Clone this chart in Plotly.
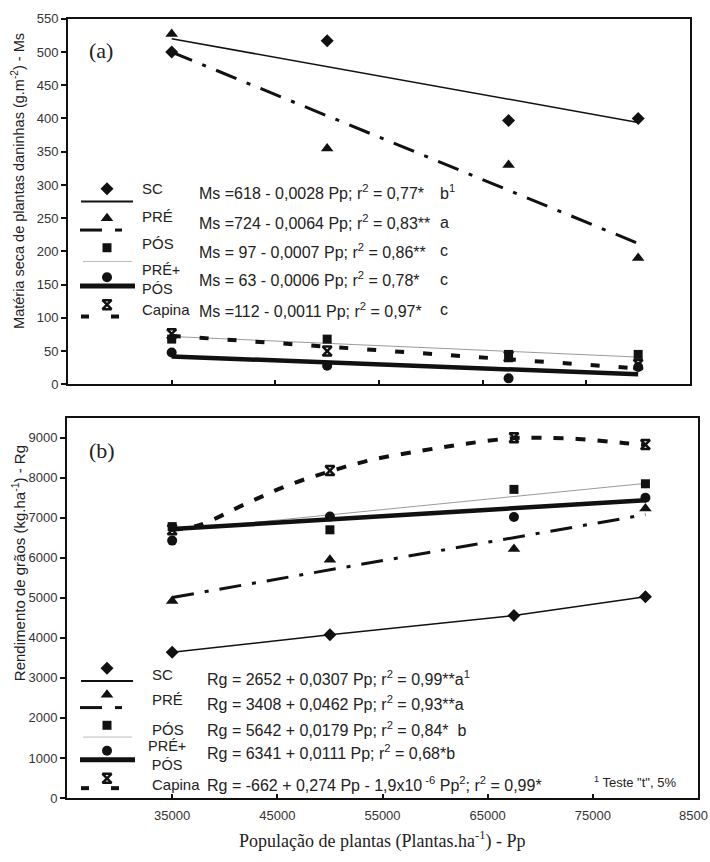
import plotly.graph_objects as go

W, H = 710, 862

# ---------------- data ----------------
pop = [35000, 50000, 67500, 80000]
fit_x = [35000, 80000]

# (a) Matéria seca (Ms)
ms_sc = [500, 517, 397, 400]
ms_pre = [527, 355, 330, 190]
ms_pos = [68, 68, 45, 45]
ms_prepos = [48, 28, 9, 26]
ms_capina = [76, 50, 42, 30]
fit_ms_sc = [520, 394]
fit_ms_pre = [500, 212]
fit_ms_pos = [72, 41]
fit_ms_prepos = [42, 15]
fit_ms_capina = [73, 24]

# (b) Rendimento de grãos (Rg)
rg_sc = [3640, 4080, 4560, 5030]
rg_pre = [4920, 5950, 6220, 7230]
rg_pos = [6780, 6700, 7710, 7850]
rg_prepos = [6430, 7030, 7020, 7500]
rg_capina = [6700, 8180, 9000, 8830]
fit_rg_pre = [5010, 7080]
fit_rg_pos = [6680, 7860]
fit_rg_prepos = [6720, 7440]
capina_curve_x = [35000, 37500, 42000, 46000, 50000, 54000, 58600, 62900, 67500, 70000, 73600, 77900, 80000]
capina_curve_y = [6700, 6810, 7350, 7810, 8160, 8450, 8670, 8850, 8990, 9000, 8970, 8870, 8820]

x_ticks = [35000, 45000, 55000, 65000, 75000, 85000]
x_ticklabels = ["35000", "45000", "55000", "65000", "75000", ""]
last_x_label = "8500"   # last tick label, cut by the figure edge in the original
ya_ticks = list(range(0, 551, 50))
yb_ticks = list(range(0, 9001, 1000))

names = ["SC", "PRÉ", "PÓS", "PRÉ+<br>PÓS", "Capina"]
eq_a = [
    "Ms =618 - 0,0028 Pp; r<sup>2</sup> = 0,77*",
    "Ms =724 - 0,0064 Pp; r<sup>2</sup> = 0,83**",
    "Ms = 97 - 0,0007 Pp; r<sup>2</sup> = 0,86**",
    "Ms = 63 - 0,0006 Pp; r<sup>2</sup> = 0,78*",
    "Ms =112 - 0,0011 Pp; r<sup>2</sup> = 0,97*",
]
letters_a = ["b<sup>1</sup>", "a", "c", "c", "c"]
eq_b = [
    "Rg = 2652 + 0,0307 Pp; r<sup>2</sup> = 0,99**a<sup>1</sup>",
    "Rg = 3408 + 0,0462 Pp; r<sup>2</sup> = 0,93**a",
    "Rg = 5642 + 0,0179 Pp; r<sup>2</sup> = 0,84*\u00a0\u00a0b",
    "Rg = 6341 + 0,0111 Pp; r<sup>2</sup> = 0,68*b",
    "Rg = -662 + 0,274 Pp - 1,9x10<sup> -6</sup> Pp<sup>2</sup>; r<sup>2</sup> = 0,99*",
]

# ---------------- styles ----------------
K = "#111111"
GRAY = "#9a9a9a"
SANS = "Liberation Sans, Arial, sans-serif"
SERIF = "Liberation Serif, Times New Roman, serif"
DASHDOT = "22px,11px,4px,11px"
DASH_A = "9px,19px"
DASH_B = "10px,12px"
symbols = ["diamond", "triangle-up", "square", "circle", "hourglass-open"]
msizes = [10, 11, 9, 10, 9]

fig = go.Figure()

def add_line(x, y, xa, ya, width, dash="solid", color=K, shape="linear"):
    fig.add_trace(go.Scatter(x=x, y=y, xaxis=xa, yaxis=ya, mode="lines",
                             line=dict(color=color, width=width, dash=dash, shape=shape),
                             showlegend=False, hoverinfo="skip", cliponaxis=False))

def marker_style(i):
    m = dict(symbol=symbols[i], size=msizes[i], color=K)
    if symbols[i].endswith("open"):
        m["line"] = dict(width=2.5, color=K)
    return m

def add_markers(y, xa, ya, i):
    fig.add_trace(go.Scatter(x=pop, y=y, xaxis=xa, yaxis=ya, mode="markers",
                             marker=marker_style(i),
                             showlegend=False, hoverinfo="skip", cliponaxis=False))

# panel (a)
add_line(fit_x, fit_ms_pos, "x", "y", 1, color=GRAY)
add_line(fit_x, fit_ms_sc, "x", "y", 1.5)
add_line(fit_x, fit_ms_pre, "x", "y", 3, dash=DASHDOT)
add_line(fit_x, fit_ms_prepos, "x", "y", 4.5)
add_line(fit_x, fit_ms_capina, "x", "y", 4, dash=DASH_A)
for i, ys in enumerate([ms_sc, ms_pre, ms_pos, ms_prepos, ms_capina]):
    add_markers(ys, "x", "y", i)

# panel (b)
add_line(fit_x, fit_rg_pos, "x2", "y2", 1, color=GRAY)
add_line(pop, rg_sc, "x2", "y2", 1.5)
add_line(fit_x, fit_rg_pre, "x2", "y2", 3, dash=DASHDOT)
add_line(fit_x, fit_rg_prepos, "x2", "y2", 4.5)
add_line(capina_curve_x, capina_curve_y, "x2", "y2", 4, dash=DASH_B, shape="spline")
for i, ys in enumerate([rg_sc, rg_pre, rg_pos, rg_prepos, rg_capina]):
    add_markers(ys, "x2", "y2", i)

# ---------------- legend glyphs (overlay axes x3/y3 in pixels) ----------------
leg_a_sym = [185, 215, 245, 275, 303]
leg_a_line = [198, 227, 259, 284, 315]
leg_b_sym = [673, 700, 731, 757, 785]
leg_b_line = [686, 713, 743, 766, 795]

for ys in (leg_a_sym, leg_b_sym):
    for i, yy in enumerate(ys):
        fig.add_trace(go.Scatter(x=[107], y=[yy], xaxis="x3", yaxis="y3", mode="markers",
                                 marker=marker_style(i), showlegend=False,
                                 hoverinfo="skip", cliponaxis=False))

shapes = []
def seg(x0, x1, y, w, color=K):
    shapes.append(dict(type="line", xref="x3", yref="y3", x0=x0, x1=x1, y0=y, y1=y,
                       line=dict(color=color, width=w)))

for yl in (leg_a_line, leg_b_line):
    seg(81, 133, yl[0], 2)
    seg(80, 102, yl[1], 3)
    seg(115, 122, yl[1], 3)
    seg(83, 132, yl[2], 1, "#bdbdbd")
    seg(80, 135, yl[3], 5)
    seg(81, 89, yl[4], 4)
    seg(111, 119, yl[4], 4)

ann = []
def txt(x, y, s, size=16, xanchor="left", font=SANS, color="#222", align="left", angle=0):
    ann.append(dict(xref="x3", yref="y3", x=x, y=y, text=s, showarrow=False,
                    xanchor=xanchor, yanchor="middle", align=align, textangle=angle,
                    font=dict(family=font, size=size, color=color)))

leg_a_lab = [185, 213, 241, 277, 308]
leg_a_eq = [188, 219, 248, 277, 308]
leg_b_lab = [679, 705, 735, 762, 791]
leg_b_eq = [683, 708, 735, 758, 791]
for i in range(5):
    if i == 3:
        txt(140, leg_a_lab[i], names[i], size=14.5)
        txt(167, leg_b_lab[i], names[i], size=14.5, xanchor="center", align="center")
    else:
        txt(140, leg_a_lab[i], names[i], size=15)
        txt(150, leg_b_lab[i], names[i], size=15)
    txt(197, leg_a_eq[i], eq_a[i])
    txt(438, leg_a_eq[i], letters_a[i])
    txt(205, leg_b_eq[i], eq_b[i])

txt(592, 789, "<sup>1</sup> Teste \"t\", 5%", size=13)
txt(87, 44, "(a)", size=22, font=SERIF)
txt(87, 451, "(b)", size=22, font=SERIF)
txt(710, 823, last_x_label, size=13, xanchor="right", color="#333")

# axis titles
txt(18, 177, "Matéria seca de plantas daninhas (g.m<sup>-2</sup>) - Ms", size=14.5,
    xanchor="center", align="center", angle=-90)
txt(18, 566, "Rendimento de grãos (kg.ha<sup>-1</sup>) - Rg", size=15,
    xanchor="center", align="center", angle=-90)
txt(382, 848, "População de plantas (Plantas.ha<sup>-1</sup>) - Pp", size=18, font=SERIF,
    xanchor="center", align="center")

def px_x(a, b):
    return [a / W, b / W]

def px_y(top, bottom):
    return [1 - bottom / H, 1 - top / H]

axis_common = dict(showgrid=False, zeroline=False, showline=True, linecolor=K, linewidth=2,
                   mirror=True, tickcolor=K, tickwidth=1.5,
                   tickfont=dict(family=SANS, size=13, color="#333"), fixedrange=True)

fig.update_layout(
    width=W, height=H,
    margin=dict(l=0, r=0, t=0, b=0),
    paper_bgcolor="white", plot_bgcolor="rgba(0,0,0,0)",
    xaxis=dict(domain=px_x(68, 690), range=[25000, 85000], anchor="y",
               tickvals=x_ticks, ticks="inside", ticklen=4, showticklabels=False, **axis_common),
    yaxis=dict(domain=px_y(12, 384), range=[0, 550], anchor="x",
               tickvals=ya_ticks, ticks="outside", ticklen=5, **axis_common),
    xaxis2=dict(domain=px_x(67, 698), range=[25000, 85000], anchor="y2",
                tickvals=x_ticks, ticktext=x_ticklabels, ticks="inside", ticklen=4,
                ticklabelstandoff=4, **axis_common),
    yaxis2=dict(domain=px_y(418, 805), range=[0, 9500], anchor="x2",
                tickvals=yb_ticks, ticks="outside", ticklen=5, **axis_common),
    xaxis3=dict(domain=[0, 1], range=[0, W], anchor="y3", visible=False, fixedrange=True),
    yaxis3=dict(domain=[0, 1], range=[H, 0], anchor="x3", visible=False, fixedrange=True),
    shapes=shapes,
    annotations=ann,
)

fig.write_html("out.html", config={"displayModeBar": False},
               post_script="document.body.style.margin='0px';")
